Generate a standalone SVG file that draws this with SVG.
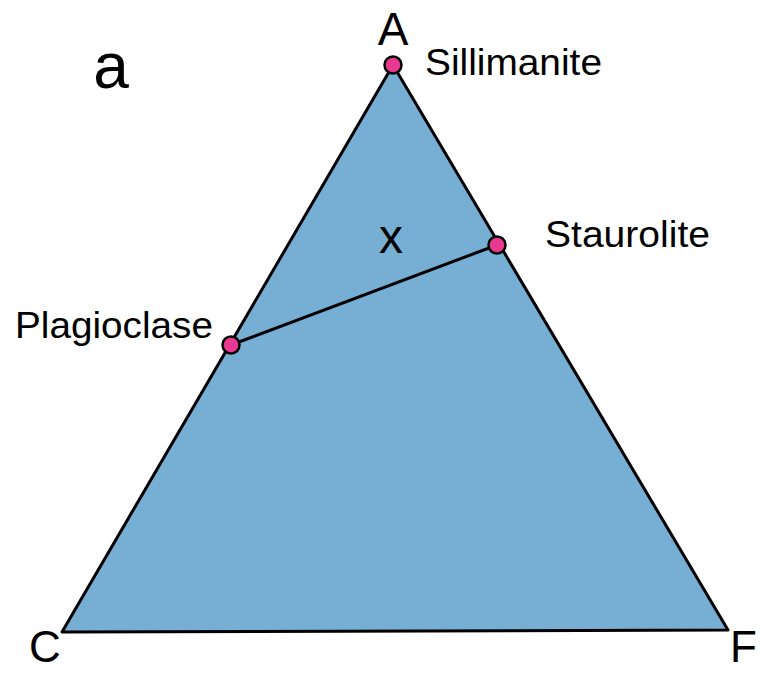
<svg xmlns="http://www.w3.org/2000/svg" width="762" height="673" viewBox="0 0 762 673">
<style>
.t{font-family:"Liberation Sans",Arial,sans-serif;fill:#000}
.lbl{font-size:36px}
.dot{fill:#e8388f;stroke:#000;stroke-width:2.5}
</style>
<rect width="762" height="673" fill="#fff"/>
<g id="triangle">
<polygon points="393,65 728,630 62,632" fill="#77afd4" stroke="#000" stroke-width="3" stroke-linejoin="round"/>
</g>
<g id="connectors">
<line x1="231" y1="345" x2="497" y2="245" stroke="#000" stroke-width="3"/>
</g>
<g id="sillimanite"><circle class="dot" cx="393" cy="65" r="8.5"/><text class="t lbl" x="425" y="75" textLength="177" lengthAdjust="spacingAndGlyphs">Sillimanite</text></g>
<g id="staurolite"><circle class="dot" cx="497" cy="245" r="8.5"/><text class="t lbl" x="545" y="247" textLength="165" lengthAdjust="spacingAndGlyphs">Staurolite</text></g>
<g id="plagioclase"><circle class="dot" cx="231" cy="345" r="8.5"/><text class="t lbl" x="15" y="338" textLength="198" lengthAdjust="spacingAndGlyphs">Plagioclase</text></g>
<text class="t" x="393" y="45" font-size="46" text-anchor="middle">A</text>
<text class="t" x="391" y="253" font-size="48" text-anchor="middle">x</text>
<text class="t" x="111" y="88" font-size="64" text-anchor="middle">a</text>
<text class="t" x="45" y="662" font-size="44" text-anchor="middle">C</text>
<text class="t" x="730" y="662" font-size="44">F</text>
</svg>
